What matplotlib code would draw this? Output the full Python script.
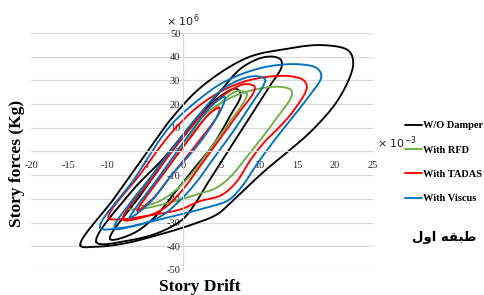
import numpy as np
import matplotlib
matplotlib.use("Agg")
import matplotlib.pyplot as plt

plt.rcParams['font.family'] = ['Liberation Serif', 'DejaVu Serif']
plt.rcParams['axes.unicode_minus'] = False

# loop key points (drift x1e-3, force x1e6)
black_loops = [
    [(-13.5, -39.7), (-9, -19.5), (-4.3, 1.7), (-1.5, 14), (2.5, 27.5), (8.4, 39.5), (13, 43),
     (18.4, 44.9), (21.8, 42.5), (22.4, 37), (20.7, 23.3), (17.1, 9.3), (10.5, -8.9), (6.8, -20),
     (4.5, -26.5), (1.5, -30.5), (-3, -35), (-8, -39), (-11.5, -40.2)],
    [(-11.4, -38.3), (-6.8, -17), (-2.6, -3), (1, 11), (4.4, 23.5), (7.8, 35.5), (11, 40),
     (12.8, 39), (13, 36), (11.5, 28), (9.5, 18), (7.5, 8), (5.5, -2), (3.5, -12), (1.8, -21),
     (0, -28.5), (-3, -34), (-7, -37.5)],
    [(-9.6, -37), (-5.5, -18), (-1.5, 0), (2, 14), (5, 23.5), (7, 26.5), (7.6, 24), (6.2, 15),
     (4, 3), (1.5, -7), (-1, -17), (-3.5, -27), (-6.5, -34.5)],
]
green_loops = [
    [(-7.2, -24), (-3.5, -8), (0, 6), (3, 16), (6.5, 23), (10, 26.5), (12.8, 27.3), (14.2, 26),
     (14.3, 23.5), (12.3, 14), (10.2, 5), (8.2, -3), (6.3, -10.5), (4.3, -15.5), (2.2, -17.8),
     (-0.4, -20.3), (-3.5, -23), (-5.8, -24.3)],
    [(-5.5, -22.5), (-2, -7), (1.5, 9), (4.5, 19), (7, 25.4), (8.4, 24.5), (8.2, 22), (6.5, 14),
     (4, 3), (1.5, -8), (-1, -16.5), (-3.5, -21.5)],
]
red_loops = [
    [(-9.8, -28), (-5.5, -9), (-1.5, 8), (2, 19), (6, 27), (10, 31), (14.1, 31.8), (15.9, 30),
     (16.3, 27), (14.5, 17), (12.6, 10), (11, 5), (9, -3), (7, -13), (5, -18.5), (2.2, -21),
     (-0.4, -24.5), (-4.5, -27), (-8, -28.6)],
    [(-7.9, -28.7), (-4, -11), (0, 6), (3.5, 19), (7.9, 28.3), (9.4, 27.5), (9.3, 25), (7.5, 17),
     (5, 6), (2.5, -5), (0, -16), (-2.5, -24), (-5.5, -28)],
    [(-6, -25), (-2.5, -9), (1, 6), (3.5, 16), (4.8, 18.5), (4.5, 15), (2, 4), (-1.5, -10),
     (-4, -20)],
]
blue_loops = [
    [(-10.9, -32.2), (-6.5, -12), (-1.7, 10.7), (1.8, 21.2), (5.5, 29.5), (10.6, 35.5),
     (15.4, 36.8), (17.7, 35), (18.2, 31.5), (16.5, 23), (14.3, 14), (12.1, 5), (9.8, -5),
     (7.7, -15), (6, -20.5), (3, -23.8), (-0.4, -26.6), (-4, -29.5), (-8, -32.2)],
    [(-9, -32.3), (-5, -14), (-1, 3), (2.5, 17), (5.5, 27), (9.3, 31.8), (10.8, 30.5),
     (10.6, 28), (9, 20), (6.5, 8), (4, -3), (2, -12), (-0.5, -21), (-3, -27.5), (-6.5, -31.5)],
    [(-7, -28), (-3, -10), (1, 8), (4, 20), (5.5, 23), (5.2, 19), (2.5, 5), (-1.5, -10),
     (-4.5, -22)],
]

series = [('W/O Damper', 'black', black_loops),
          ('With RFD', '#70AD47', green_loops),
          ('With TADAS', '#FF0000', red_loops),
          ('With Viscus', '#0070C0', blue_loops)]

x_ticks = [-20, -15, -10, -5, 0, 5, 10, 15, 20, 25]
y_ticks = [-50, -40, -30, -20, -10, 0, 10, 20, 30, 40, 50]


def smooth_loop(pts, n=14, alpha=0.5, sx=3.2):
    # closed centripetal catmull-rom, like excel's smoothed scatter lines
    P = np.array(pts, float)
    P = np.vstack([P[-1], P, P[0], P[1]])
    out = []
    for i in range(1, len(P) - 2):
        p0, p1, p2, p3 = P[i - 1], P[i], P[i + 1], P[i + 2]

        def nxt(t, a, b):
            d = (b - a) * [sx, 1]
            return t + max(np.hypot(*d), 1e-6) ** alpha
        t0 = 0.0
        t1 = nxt(t0, p0, p1)
        t2 = nxt(t1, p1, p2)
        t3 = nxt(t2, p2, p3)
        t = np.linspace(t1, t2, n, endpoint=False)[:, None]
        a1 = (t1 - t) / (t1 - t0) * p0 + (t - t0) / (t1 - t0) * p1
        a2 = (t2 - t) / (t2 - t1) * p1 + (t - t1) / (t2 - t1) * p2
        a3 = (t3 - t) / (t3 - t2) * p2 + (t - t2) / (t3 - t2) * p3
        b1 = (t2 - t) / (t2 - t0) * a1 + (t - t0) / (t2 - t0) * a2
        b2 = (t3 - t) / (t3 - t1) * a2 + (t - t1) / (t3 - t1) * a3
        out.append((t2 - t) / (t2 - t1) * b1 + (t - t1) / (t2 - t1) * b2)
    out = np.vstack(out)
    return np.vstack([out, out[:1]])


fig = plt.figure(figsize=(4.85, 2.95), dpi=100)
ax = fig.add_axes([0.064, 0.085, 0.705, 0.803])

for label, color, loops in series:
    for k, loop in enumerate(loops):
        c = smooth_loop(loop)
        ax.plot(c[:, 0], c[:, 1], color=color, lw=1.35,
                label=label if k == 0 else None, solid_capstyle='round')

ax.set_xlim(-20, 25)
ax.set_ylim(-50, 50)
ax.set_xticks(x_ticks)
ax.set_yticks(y_ticks)
ax.set_axisbelow(True)
ax.yaxis.grid(True, color='#D9D9D9', lw=0.8)
for s in ['top', 'right']:
    ax.spines[s].set_visible(False)
for s in ['left', 'bottom']:
    ax.spines[s].set_position(('data', 0))
    ax.spines[s].set_color('#D9D9D9')
    ax.spines[s].set_linewidth(0.8)
ax.tick_params(axis='both', length=0, labelsize=7.5, colors='#262626')
ax.tick_params(axis='x', pad=7)
ax.tick_params(axis='y', pad=2)

ax.text(0, 1.015, '× 10$^6$', transform=ax.get_xaxis_transform(), ha='center',
        va='bottom', fontsize=8, family='DejaVu Sans', color='#262626')
ax.text(1.012, 0.0, '× 10$^{-3}$', transform=ax.get_yaxis_transform(), ha='left',
        va='bottom', fontsize=8, family='DejaVu Sans', color='#262626')

fig.text(0.035, 0.445, 'Story forces (Kg)', rotation=90, ha='center', va='center',
         fontsize=12.5, fontweight='bold')
fig.text(0.412, 0.027, 'Story Drift', ha='center', va='center', fontsize=12.5,
         fontweight='bold')

fig.legend(loc='upper left', bbox_to_anchor=(0.835, 0.59), frameon=False,
           prop={'size': 7.5, 'weight': 'bold'}, handlelength=1.6, handletextpad=0.1,
           labelspacing=1.45, borderpad=0, borderaxespad=0)

# "طبقه اول" written with arabic presentation forms in visual order
fig.text(0.915, 0.195, '\ufedd\ufeed\ufe8d \ufeea\ufed8\ufe92\ufec3', ha='center',
         va='center', fontsize=9.5, fontweight='bold', family='DejaVu Sans')

fig.savefig('out.png', dpi=100)
